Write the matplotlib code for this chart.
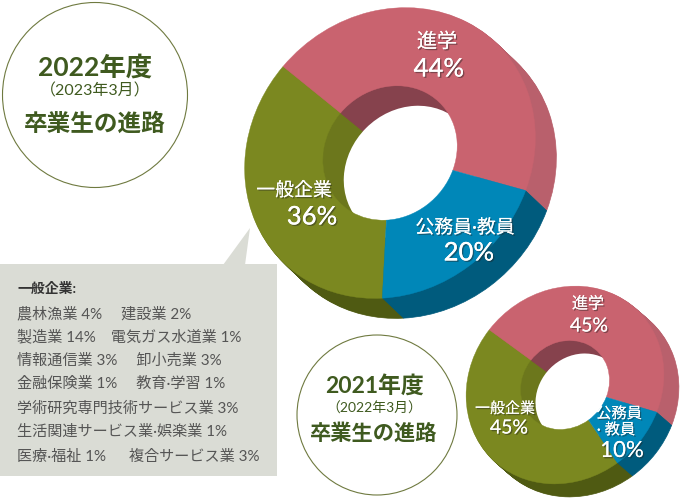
import matplotlib
matplotlib.use('Agg')
import matplotlib.pyplot as plt
import matplotlib.patheffects as pe
import numpy as np
from matplotlib.patches import Wedge, Circle, Polygon, Rectangle
from matplotlib.transforms import Affine2D

plt.rcParams['font.family'] = ['Lato', 'Noto Sans CJK JP', 'DejaVu Sans']

categories = ['一般企業', '進学', '公務員·教員']
values_2022 = [36, 44, 20]
values_2021 = [45, 45, 10]

breakdown_title = '一般企業:'
breakdown_lines = [
    '農林漁業 4%　 建設業 2%',
    '製造業 14%　電気ガス水道業 1%',
    '情報通信業 3%　 卸小売業 3%',
    '金融保険業 1%　 教育·学習 1%',
    '学術研究専門技術サービス業 3%',
    '生活関連サービス業·娯楽業 1%',
    '医療·福祉 1%　  複合サービス業 3%',
]

face_colors = ['#7b8820', '#c9636f', '#0087b8']
wall_colors = ['#4f5a12', '#b9606c', '#005b7d']
inner_colors = ['#6c771c', '#86424d', '#005b7d']

H = 500


def draw_donut(ax, values, cx, cy, r, r_in, dx, dy, start):
    """Fake 3D donut: stacked wedges for the walls, flat ring on top."""
    cy = H - cy
    angles = start - np.cumsum([0] + values) * 3.6
    # the face is a slightly squashed circle, tilted along the NW-SE axis
    tilt = Affine2D().rotate_deg(-45).scale(1.04, 0.935).rotate_deg(45)

    def at(ox, oy):
        return tilt + Affine2D().translate(cx + ox, cy + oy) + ax.transData

    n = max(dx, dy)
    # outer wall
    for k in range(n, 0, -1):
        tr = at(dx * k / n, -dy * k / n)
        for i in range(len(values)):
            ax.add_patch(Wedge((0, 0), r, angles[i + 1], angles[i], transform=tr,
                               fc=wall_colors[i], ec=wall_colors[i], lw=0.5))
    # inner wall seen through the hole
    for k in range(n, -1, -1):
        tr = at(dx * k / n, -dy * k / n)
        for i in range(len(values)):
            ax.add_patch(Wedge((0, 0), r_in, angles[i + 1], angles[i], transform=tr,
                               fc=inner_colors[i], ec=inner_colors[i], lw=0.5))
    ax.add_patch(Circle((0, 0), r_in, transform=at(dx, -dy), fc='white', ec='none'))
    # top face
    for i in range(len(values)):
        ax.add_patch(Wedge((0, 0), r, angles[i + 1], angles[i], width=r - r_in,
                           transform=at(0, 0), fc=face_colors[i], ec=face_colors[i], lw=0.3))


def label(ax, x, y, s, size, shadow=True, **kw):
    t = ax.text(x, H - y, s, fontsize=size, color=kw.pop('color', 'white'),
                ha=kw.pop('ha', 'center'), va='center', **kw)
    if shadow:
        t.set_path_effects([pe.withSimplePatchShadow(offset=(1, -1), shadow_rgbFace='#222222', alpha=0.45),
                            pe.Normal()])
    return t


fig = plt.figure(figsize=(6.8, 5), dpi=100)
ax = fig.add_axes([0, 0, 1, 1])
ax.set_xlim(0, 680)
ax.set_ylim(0, H)
ax.axis('off')

draw_donut(ax, values_2022, 390, 153, 147, 68, 21, 20, 270)
draw_donut(ax, values_2021, 565, 385, 100, 45, 15, 13, 305)

# callout
box_c = '#dadcd5'
ax.add_patch(Rectangle((0, H - 476), 277, 212, fc=box_c, ec='none'))
ax.add_patch(Polygon([(223, H - 265), (250, H - 228), (245, H - 265)], fc=box_c, ec='none'))

text_c = '#555555'
label(ax, 17, 288, breakdown_title, 10, shadow=False, color='#333333', ha='left', fontweight='bold')
line_y = [314, 337, 361, 384, 409, 432, 457]
for y, s in zip(line_y, breakdown_lines):
    label(ax, 17, y, s, 10.9, shadow=False, color=text_c, ha='left')

# headings
head_c = '#3f5a1f'
ax.add_patch(Circle((95, H - 95), 92.5, fc='white', ec='#6f7a40', lw=0.8))
label(ax, 95, 67, '2022年度', 19, shadow=False, color=head_c, fontweight='bold')
label(ax, 95, 91, '（2023年3月）', 11.5, shadow=False, color=head_c)
label(ax, 95, 123, '卒業生の進路', 17, shadow=False, color=head_c, fontweight='bold')

ax.add_patch(Circle((377, H - 415), 80, fc='white', ec='#6f7a40', lw=0.8))
label(ax, 374, 386, '2021年度', 16.5, shadow=False, color=head_c, fontweight='bold')
label(ax, 374, 408, '（2022年3月）', 10, shadow=False, color=head_c)
label(ax, 374, 433, '卒業生の進路', 15.3, shadow=False, color=head_c, fontweight='bold')

# big donut labels
label(ax, 437, 41, categories[1], 14.5)
label(ax, 439, 69, f'{values_2022[1]}%', 18.5, fontweight='medium')
label(ax, 294, 190, categories[0], 13.6)
label(ax, 312, 217, f'{values_2022[0]}%', 18.5, fontweight='medium')
label(ax, 465, 227, categories[2], 13.6)
label(ax, 469, 253, f'{values_2022[2]}%', 18.5, fontweight='medium')

# small donut labels
label(ax, 588, 304, categories[1], 11.6)
label(ax, 589, 326, f'{values_2021[1]}%', 14)
label(ax, 505, 409, categories[0], 10.8)
label(ax, 509, 428, f'{values_2021[0]}%', 14)
label(ax, 619, 414, '公務員', 11)
label(ax, 616, 430, '· 教員', 11)
label(ax, 622, 451, f'{values_2021[2]}%', 16)

fig.savefig('out.png', dpi=100)
